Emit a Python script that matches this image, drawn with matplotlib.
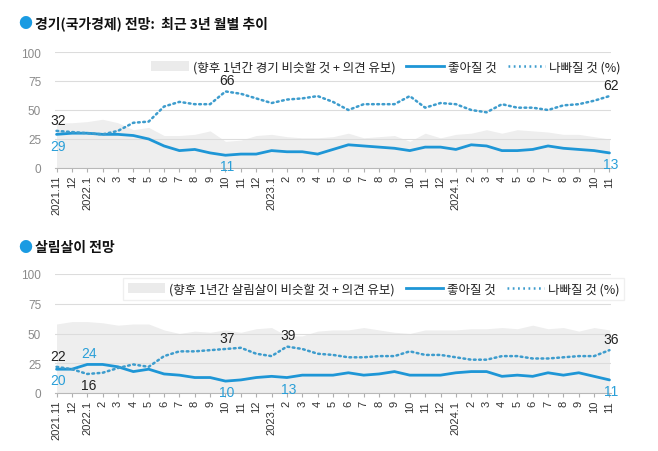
import matplotlib
matplotlib.use("Agg")
import matplotlib.pyplot as plt
from matplotlib.patches import Patch
from matplotlib.lines import Line2D

plt.rcParams['font.family'] = ['Noto Sans CJK KR', 'DejaVu Sans']

# ---- data ----
months = ['2021.11', '12', '2022.1', '2', '3', '4', '5', '6', '7', '8', '9', '10', '11', '12',
          '2023.1', '2', '3', '4', '5', '6', '7', '8', '9', '10', '11', '12',
          '2024.1', '2', '3', '4', '5', '6', '7', '8', '9', '10', '11']

econ_good = [29, 30, 30, 29, 29, 28, 25, 19, 15, 16, 13, 11, 12, 12, 15, 14, 14, 12, 16, 20, 19,
             18, 17, 15, 18, 18, 16, 20, 19, 15, 15, 16, 19, 17, 16, 15, 13]
econ_bad = [32, 31, 30, 29, 32, 39, 40, 53, 57, 55, 55, 66, 64, 60, 56, 59, 60, 62, 57, 50, 55,
            55, 55, 62, 52, 56, 55, 50, 48, 55, 52, 52, 50, 54, 55, 58, 62]
econ_same = [39, 39, 40, 42, 39, 33, 35, 28, 28, 29, 32, 23, 24, 28, 29, 27, 26, 26, 27, 30, 26,
             27, 28, 23, 30, 26, 29, 30, 33, 30, 33, 32, 31, 29, 29, 27, 25]

life_good = [20, 20, 24, 24, 22, 18, 20, 16, 15, 13, 13, 10, 11, 13, 14, 13, 15, 15, 15, 17, 15,
             16, 18, 15, 15, 15, 17, 18, 18, 14, 15, 14, 17, 15, 17, 14, 11]
life_bad = [22, 20, 16, 17, 21, 24, 22, 31, 35, 35, 36, 37, 38, 33, 31, 39, 37, 33, 32, 30, 30,
            31, 31, 35, 32, 32, 30, 28, 28, 31, 31, 29, 29, 30, 31, 31, 36]
life_same = [58, 60, 60, 59, 57, 58, 58, 53, 50, 52, 51, 53, 51, 54, 55, 48, 48, 52, 53, 53, 55,
             53, 51, 50, 53, 53, 53, 54, 54, 55, 54, 57, 54, 55, 52, 55, 53]

titles = ['경기(국가경제) 전망:  최근 3년 월별 추이', '살림살이 전망']
same_labels = ['(향후 1년간 경기 비슷할 것 + 의견 유보)', '(향후 1년간 살림살이 비슷할 것 + 의견 유보)']
good_label = '좋아질 것'
bad_label = '나빠질 것 (%)'

# annotations: (index, series, position)
econ_ann = [(0, 'bad', 'above'), (0, 'good', 'below'), (11, 'bad', 'above'), (11, 'good', 'below'),
            (36, 'bad', 'above'), (36, 'good', 'below')]
life_ann = [(0, 'bad', 'above'), (0, 'good', 'below'), (2, 'good', 'above'), (2, 'bad', 'below'),
            (11, 'bad', 'above'), (11, 'good', 'below'), (15, 'bad', 'above'), (15, 'good', 'below'),
            (36, 'bad', 'above'), (36, 'good', 'below')]

BLUE = '#1e96d6'
BLUE_DOT = '#3d9ccd'
GRAY_FILL = '#eeeeee'
LABEL_BLUE = '#2a9fd8'

W, H = 658, 452
fig = plt.figure(figsize=(W / 100, H / 100), dpi=100)


def make_panel(rect, good, bad, same, title, title_y, same_label, ann, leg_y, leg_x, leg_frame):
    ax = fig.add_axes(rect)
    x = list(range(len(months)))
    ax.fill_between(x, 0, same, color=GRAY_FILL, lw=0, zorder=1)
    ax.plot(x, good, color=BLUE, lw=2.0, zorder=4, solid_capstyle='round')
    ax.plot(x, bad, color=BLUE_DOT, lw=1.8, linestyle=(0, (0.7, 1.4)), dash_capstyle='round', zorder=4)
    ax.set_xlim(-0.1, len(months) - 0.9)
    ax.set_ylim(0, 100)
    ax.set_yticks([0, 25, 50, 75, 100])
    ax.set_yticklabels(['0', '25', '50', '75', '100'], family=['Liberation Sans'], fontsize=8.5,
                       color='#8a8a8a')
    ax.set_xticks(x)
    ax.set_xticklabels(months, rotation=90, family=['Liberation Sans'], fontsize=8, color='#333333',
                       va='top', ha='center')
    ax.tick_params(axis='y', length=0, pad=10)
    ax.tick_params(axis='x', length=3, color='#b0b0b0', pad=2)
    ax.grid(axis='y', color='#dcdcdc', lw=0.8)
    ax.set_axisbelow(False)
    for s in ['top', 'right', 'left']:
        ax.spines[s].set_visible(False)
    ax.spines['bottom'].set_color('#b8b8b8')
    ax.spines['bottom'].set_zorder(3)

    for i, ser, pos in ann:
        vals = good if ser == 'good' else bad
        col = LABEL_BLUE if ser == 'good' else '#222222'
        if pos == 'above':
            ax.annotate(str(vals[i]), (i, vals[i]), xytext=(1, 3), textcoords='offset points',
                        ha='center', va='bottom', fontsize=10, color=col, family=['Liberation Sans'],
                        zorder=6)
        else:
            ax.annotate(str(vals[i]), (i, vals[i]), xytext=(1, -3), textcoords='offset points',
                        ha='center', va='top', fontsize=10, color=col, family=['Liberation Sans'],
                        zorder=6)

    handles = [Patch(facecolor='#ebebeb', edgecolor='none'),
               Line2D([], [], color=BLUE, lw=2.0),
               Line2D([], [], color=BLUE_DOT, lw=1.8, linestyle=(0, (0.7, 1.4)))]
    leg = ax.legend(handles, [same_label, good_label, bad_label], ncol=3, loc='center',
                    bbox_to_anchor=(leg_x, leg_y), frameon=leg_frame, fontsize=9,
                    handlelength=3.0, handletextpad=0.3, columnspacing=0.9, handleheight=0.9,
                    fancybox=False, borderpad=0.35)
    if leg_frame:
        leg.get_frame().set_edgecolor('#ececec')
        leg.get_frame().set_facecolor('white')
        leg.get_frame().set_linewidth(1.0)
    for t in leg.get_texts():
        t.set_color('#222222')

    fig.text(18 / W, 1 - title_y / H, '●', color='#1a9be2', fontsize=10, va='center', ha='left')
    fig.text(35 / W, 1 - title_y / H, title, color='#111111', fontsize=10, fontweight='bold',
             va='center', ha='left')
    return ax


left = 55 / W
width = 556 / W
make_panel([left, 1 - 169 / H, width, 116 / H], econ_good, econ_bad, econ_same, titles[0], 24,
           same_labels[0], econ_ann, 0.87, 0.595, False)
make_panel([left, 1 - 394 / H, width, 119 / H], life_good, life_bad, life_same, titles[1], 248,
           same_labels[1], life_ann, 0.874, 0.573, True)

fig.savefig('out.png', dpi=100)
